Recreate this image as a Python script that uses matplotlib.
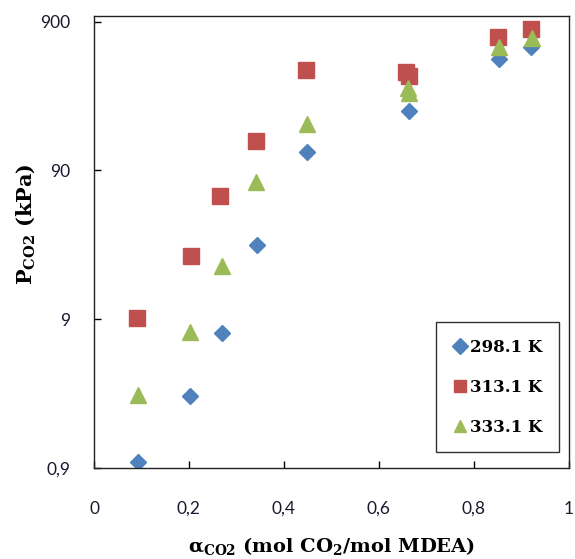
import matplotlib
matplotlib.use("Agg")
import matplotlib.pyplot as plt

matplotlib.rcParams.update({
    "font.family": "DejaVu Serif",
    "mathtext.fontset": "dejavuserif",
    "xtick.direction": "in",
    "ytick.direction": "in",
})

# ── Data ────────────────────────────────────────────────────────────────────
labels = ["298.1 K", "313.1 K", "333.1 K"]

x_298 = [0.092, 0.203, 0.269, 0.343, 0.449, 0.663, 0.854, 0.921]
p_298 = [0.98, 2.74, 7.3, 28.3, 120, 226, 505, 611]

x_313 = [0.090, 0.204, 0.266, 0.342, 0.447, 0.658, 0.663, 0.852, 0.921]
p_313 = [9.1, 24.0, 60.8, 143, 425, 415, 392, 715, 800]

x_333 = [0.092, 0.203, 0.269, 0.342, 0.449, 0.661, 0.663, 0.854, 0.923]
p_333 = [2.77, 7.4, 20.5, 75.4, 186, 325, 300, 612, 706]

xticks = [0, 0.2, 0.4, 0.6, 0.8, 1.0]
xtick_labels = ["0", "0,2", "0,4", "0,6", "0,8", "1"]
yticks = [0.9, 9, 90, 900]
ytick_labels = ["0,9", "9", "90", "900"]

# ── Figure ──────────────────────────────────────────────────────────────────
fig = plt.figure(figsize=(5.75, 5.59), dpi=100)
ax = fig.add_axes([0.1635, 0.1633, 0.8252, 0.8086])

ax.plot(x_298, p_298, ls="none", marker="D", ms=8.5, color="#4F81BD", label=labels[0])
ax.plot(x_313, p_313, ls="none", marker="s", ms=11, color="#C0504D", label=labels[1])
ax.plot(x_333, p_333, ls="none", marker="^", ms=11, color="#9BBB59", label=labels[2])

ax.set_yscale("log")
ax.set_xlim(0, 1)
ax.set_ylim(0.9, 990)

ax.set_xticks(xticks)
ax.set_xticklabels(xtick_labels, family="Lato", fontsize=12.5, color="#1a1a2e")
ax.set_yticks(yticks)
ax.set_yticklabels(ytick_labels, family="Lato", fontsize=12.5, color="#1a1a2e")
ax.minorticks_off()
ax.tick_params(axis="x", pad=24, length=5, width=1)
ax.tick_params(axis="y", pad=17, length=5, width=1)

for s in ax.spines.values():
    s.set_linewidth(1.0)
    s.set_color("#222222")

ax.set_xlabel(r"$\mathbf{\alpha_{CO2}}$ (mol CO$\mathbf{_2}$/mol MDEA)",
              fontsize=14, fontweight="bold", labelpad=13)
ax.set_ylabel(r"P$\mathbf{_{CO2}}$ (kPa)", fontsize=15, fontweight="bold")
ax.yaxis.set_label_coords(-0.12, 0.539)

leg = ax.legend(loc="lower right", bbox_to_anchor=(0.981, 0.034),
                frameon=True, fancybox=False, edgecolor="black",
                prop={"family": "DejaVu Serif", "weight": "bold", "size": 12},
                labelspacing=1.38, handlelength=0.8, handletextpad=0.25,
                borderpad=1.0, borderaxespad=0)
leg.get_frame().set_linewidth(1.0)
for h in leg.legend_handles:
    h.set_markersize(8)

fig.savefig("out.png", dpi=100)
